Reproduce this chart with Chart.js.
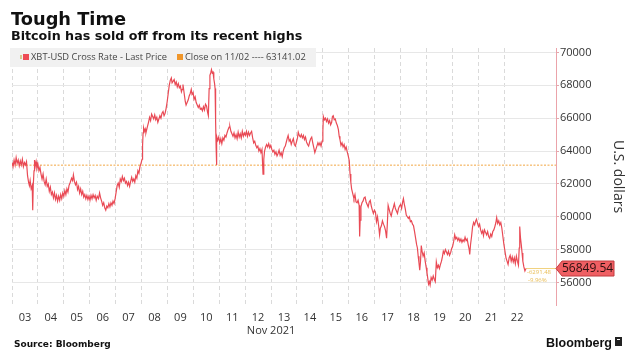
<!DOCTYPE html>
<html><head><meta charset="utf-8">
<script src="https://cdn.jsdelivr.net/npm/chart.js@4/dist/chart.umd.min.js"></script>
<style>html,body{margin:0;padding:0;background:#fff}#wrap{width:636px;height:355px;position:relative}canvas{display:block}</style>
</head><body><div id="wrap"><canvas id="c" width="636" height="355"></canvas></div>
<script>
// ---- data ----
const dayLabels = ['03','04','05','06','07','08','09','10','11','12','13','14','15','16','17','18','19','20','21','22'];
const gridDays = [0,1,2,3,4,5,6,7,8,9,10,11,12,13,14,15,16,17,18,19];
const labelDays = [0.5,1.5,2.5,3.5,4.5,5.5,6.5,7.5,8.5,9.5,10.5,11.5,12.5,13.5,14.5,15.5,16.5,17.5,18.5,19.5];
const priceTicks = [56000,58000,60000,62000,64000,66000,68000,70000];
const closeValue = 63141.02;
const lastPrice = 56849.54;
const changeLabels = ['-6291.48', '-9.96%'];
// time in days since Nov 03 00:00
const days = [
0.00,0.04,0.08,0.12,0.16,0.20,0.24,0.28,0.32,0.36,0.40,0.44,0.48,0.52,0.56,0.60,0.64,0.67,0.70,0.74,0.78,0.80,0.82,0.85,0.87,0.90,0.93,0.96,
1.00,1.04,1.08,1.12,1.16,1.20,1.24,1.28,1.32,1.36,1.40,1.44,1.48,1.52,1.56,1.60,1.64,1.68,1.72,1.76,1.80,1.84,1.88,1.92,1.96,
2.00,2.04,2.08,2.12,2.16,2.20,2.25,2.30,2.34,2.37,2.41,2.45,2.49,2.53,2.57,2.61,2.65,2.69,2.73,2.77,2.81,2.85,2.89,2.93,2.97,
3.01,3.05,3.09,3.13,3.17,3.21,3.25,3.29,3.34,3.38,3.42,3.46,3.50,3.54,3.58,3.62,3.66,3.70,3.74,3.78,3.82,3.86,3.90,3.94,3.98,
4.02,4.06,4.10,4.14,4.18,4.22,4.26,4.30,4.34,4.38,4.42,4.46,4.50,4.54,4.58,4.62,4.66,4.70,4.74,4.78,4.82,4.86,4.90,4.94,4.98,
5.02,5.04,5.06,5.08,5.11,5.14,5.17,5.20,5.23,5.27,5.31,5.35,5.39,5.43,5.47,5.51,5.55,5.59,5.63,5.67,5.71,5.75,5.79,5.83,5.87,5.91,5.95,5.99,
6.03,6.07,6.11,6.15,6.18,6.22,6.26,6.30,6.34,6.38,6.42,6.46,6.50,6.54,6.57,6.60,6.63,6.66,6.69,6.72,6.76,6.80,6.84,6.88,6.92,6.95,6.99,
7.03,7.07,7.11,7.15,7.19,7.23,7.27,7.31,7.35,7.39,7.43,7.47,7.51,7.55,7.58,7.61,7.64,7.67,7.70,7.73,7.76,7.79,7.82,7.84,7.86,7.88,7.89,7.91,7.94,7.98,
8.02,8.06,8.10,8.14,8.18,8.22,8.26,8.30,8.34,8.38,8.41,8.45,8.49,8.53,8.57,8.61,8.65,8.69,8.73,8.77,8.81,8.85,8.89,8.93,8.97,
9.01,9.05,9.09,9.13,9.17,9.21,9.25,9.29,9.33,9.37,9.41,9.45,9.49,9.53,9.57,9.61,9.65,9.69,9.72,9.75,9.79,9.83,9.87,9.91,9.95,9.99,
10.03,10.07,10.11,10.15,10.19,10.23,10.27,10.31,10.35,10.39,10.43,10.47,10.51,10.55,10.59,10.63,10.66,10.70,10.74,10.78,10.82,10.86,10.90,10.94,10.98,
11.02,11.05,11.09,11.13,11.17,11.21,11.25,11.29,11.33,11.37,11.41,11.45,11.49,11.53,11.57,11.61,11.65,11.69,11.73,11.77,11.81,11.85,11.89,11.93,11.97,
12.00,12.02,12.06,12.10,12.14,12.18,12.22,12.26,12.30,12.34,12.37,12.40,12.44,12.48,12.52,12.56,12.60,12.63,12.66,12.70,12.74,12.78,12.82,12.86,12.90,12.94,12.98,
13.02,13.05,13.08,13.11,13.14,13.17,13.20,13.24,13.28,13.32,13.36,13.40,13.42,13.44,13.47,13.51,13.55,13.59,13.63,13.67,13.71,13.75,13.79,13.83,13.87,13.91,13.95,13.99,
14.03,14.07,14.11,14.15,14.19,14.22,14.26,14.30,14.34,14.38,14.42,14.46,14.49,14.52,14.56,14.60,14.64,14.68,14.72,14.76,14.80,14.84,14.88,14.92,14.96,
15.00,15.04,15.08,15.11,15.14,15.18,15.22,15.26,15.30,15.34,15.38,15.42,15.46,15.50,15.54,15.58,15.62,15.65,15.68,15.71,15.74,15.77,15.80,15.83,15.87,15.91,15.95,15.99,
16.02,16.05,16.08,16.11,16.14,16.18,16.22,16.26,16.30,16.34,16.38,16.42,16.46,16.50,16.54,16.58,16.62,16.65,16.69,16.73,16.77,16.81,16.85,16.89,16.93,16.97,
17.01,17.05,17.09,17.13,17.17,17.21,17.25,17.29,17.33,17.37,17.41,17.45,17.49,17.53,17.57,17.61,17.65,17.67,17.70,17.74,17.78,17.82,17.86,17.90,17.93,17.97,
18.01,18.05,18.09,18.13,18.17,18.20,18.24,18.28,18.32,18.36,18.40,18.44,18.48,18.52,18.56,18.60,18.64,18.68,18.71,18.75,18.79,18.83,18.87,18.91,18.95,18.99,
19.03,19.07,19.11,19.15,19.19,19.23,19.27,19.31,19.35,19.39,19.43,19.47,19.51,19.55,19.58,19.60,19.63,19.66,19.69,19.72,19.76,19.80,19.84
];
const prices = [
63300,63050,63450,63150,63600,63250,63450,63100,63400,63150,63500,63050,63300,63150,63350,62500,62100,61900,62200,61700,61900,60400,61900,62800,63450,63100,63350,62950,
63200,62800,63000,62600,62300,62600,62150,61950,62300,61850,62000,61550,61800,61350,61500,61150,61450,61050,61300,60950,61250,61000,61350,61100,61450,
61250,61600,61350,61700,61500,61900,62100,62350,62200,62550,62150,61950,62100,61650,61850,61450,61700,61350,61550,61200,61350,61100,61300,61050,61250,
61000,61300,61100,61350,61150,61300,61000,61250,61100,61450,61150,60950,60700,60850,60550,60400,60650,60550,60800,60600,60850,60700,60950,60800,61100,
61500,61900,62050,61800,62300,62150,62450,62200,62350,62050,62150,61900,62100,61850,62150,62400,62150,62300,62100,62500,62350,62800,62650,63050,63250,
63500,64300,65100,65400,65200,65350,65100,65300,65500,65750,66050,65850,66250,66100,65950,66200,65900,66050,65750,65950,66150,66000,66300,66400,66150,66300,66600,67000,
67500,68000,68300,68450,68150,68250,68350,68050,68200,67900,68100,67850,67950,67600,67750,68050,67700,67350,67000,66800,66950,67100,67350,67500,67750,67450,67550,
67150,67300,66950,66800,66650,66800,66550,66600,66450,66700,66500,66850,66750,66350,66150,67800,68600,68750,68950,68750,68800,68400,68100,67800,65800,64200,63150,64900,64650,64850,
64500,64750,64450,64800,64650,64950,64850,65100,65300,65450,65500,65200,65050,64900,65100,64800,65000,64750,65150,64850,65050,64800,65200,64900,65100,
64950,65200,64900,65150,64950,65100,65200,64800,64500,64600,64350,64200,64300,64000,64150,63900,64100,62600,63500,64000,64250,64400,64250,64450,64200,64350,
64100,63950,64050,63800,63950,63700,63850,64050,63750,63900,63650,64000,64200,64300,64550,64800,64950,64600,64700,64400,64600,64750,64400,64300,64550,
64800,65150,64950,64850,65000,64800,64950,64700,64850,64550,64400,64300,64550,64750,64850,64500,64200,63900,64100,64300,64500,64350,64500,64300,64600,
65200,66100,65900,66000,65800,65950,65700,65850,65600,65750,66100,66150,65900,65950,65700,65550,65300,64900,64700,64350,64500,64250,64400,64100,64250,63950,63700,
63400,62600,62100,61700,61500,61300,61100,61350,60900,60850,61000,60700,58800,59800,60600,60850,60950,61150,61200,60900,60750,60600,60900,61000,60650,60400,60200,60400,
60300,59700,60000,59500,58900,59300,59450,59750,59550,59400,59150,58700,59600,60700,60450,60200,60050,60350,60550,60800,60500,60350,60200,60500,60650,
60750,60500,60900,61100,60800,60500,60100,60000,59900,60000,59700,59750,59550,59450,59100,58700,58300,58100,57600,57200,56750,57300,58250,57900,57600,57800,57300,56900,
56600,56250,55900,56050,55850,56300,56150,56400,56200,56050,57250,56900,57050,56850,57100,57300,57600,57900,57750,58000,57850,57700,57900,57650,57800,58050,
58200,58500,58900,58650,58750,58550,58700,58500,58650,58450,58600,58500,58750,58550,58650,58300,58000,57700,58300,58800,59400,59650,59500,59750,59850,59600,
59400,59550,59200,59000,59150,58850,59200,59050,58900,59100,58800,58700,58950,58800,59100,59200,59400,59650,59950,59600,59750,59500,59650,59300,58800,58300,
57900,57500,57300,57100,57500,57650,57300,57550,57250,57500,57150,57600,57300,57050,58100,59400,58700,58300,57800,57300,56950,56700,56849.54
];

const X_MAX = 21.0;
const Y_MIN = 54630, Y_MAX = 70270;
const lastDay = days[days.length - 1];

const FONT = '"Open Sans", "Liberation Sans", sans-serif';

const extras = {
  id: 'extras',
  afterDraw(chart) {
    const ctx = chart.ctx;
    const xs = chart.scales.x, ys = chart.scales.y;
    ctx.save();
    // titles
    ctx.fillStyle = '#111';
    ctx.textAlign = 'left';
    ctx.textBaseline = 'alphabetic';
    ctx.font = 'bold 17.8px "DejaVu Sans", sans-serif';
    ctx.fillText('Tough Time', 11, 25);
    ctx.font = 'bold 12.7px "DejaVu Sans", sans-serif';
    ctx.fillText('Bitcoin has sold off from its recent highs', 11, 40);

    // legend box
    ctx.fillStyle = '#f1f1f1';
    ctx.fillRect(10, 48, 306, 19);
    ctx.fillStyle = '#d8c890';
    ctx.fillRect(20, 55, 2, 4);
    ctx.fillStyle = '#ee4b55';
    ctx.fillRect(23, 54, 6, 6);
    ctx.fillStyle = '#444';
    ctx.font = '9.3px ' + FONT;
    ctx.textBaseline = 'middle';
    ctx.fillText('XBT-USD Cross Rate - Last Price', 31, 57.5);
    ctx.fillStyle = '#f0962a';
    ctx.fillRect(177, 54, 6, 6);
    ctx.fillStyle = '#444';
    ctx.fillText('Close on 11/02 ---- 63141.02', 185, 57.5);

    // Nov 2021
    ctx.fillStyle = '#333';
    ctx.font = '11px ' + FONT;
    ctx.textAlign = 'center';
    ctx.fillText('Nov 2021', xs.getPixelForValue(10), 331);

    // source + logo
    ctx.textAlign = 'left';
    ctx.fillStyle = '#111';
    ctx.font = 'bold 9px "DejaVu Sans", sans-serif';
    ctx.textBaseline = 'alphabetic';
    ctx.fillText('Source: Bloomberg', 14, 347);
    ctx.font = 'bold 12.5px "Liberation Sans", sans-serif';
    ctx.textAlign = 'right';
    ctx.fillText('Bloomberg', 612, 347);
    ctx.fillStyle = '#222';
    ctx.fillRect(615, 337, 7, 9);
    ctx.fillStyle = '#fff';
    ctx.fillRect(617, 339, 3, 1);

    // price tag
    const py = ys.getPixelForValue(lastPrice);
    const ax = chart.chartArea.right;
    ctx.beginPath();
    ctx.moveTo(ax, py);
    ctx.lineTo(ax + 6, py - 7.5);
    ctx.lineTo(614, py - 7.5);
    ctx.lineTo(614, py + 7.5);
    ctx.lineTo(ax + 6, py + 7.5);
    ctx.closePath();
    ctx.fillStyle = '#ef5f63';
    ctx.fill();
    ctx.strokeStyle = '#c23a3f';
    ctx.lineWidth = 1;
    ctx.stroke();
    ctx.fillStyle = '#2a0e0e';
    ctx.font = '12px ' + FONT;
    ctx.textAlign = 'left';
    ctx.textBaseline = 'middle';
    ctx.fillText(lastPrice.toFixed(2), 562, py + 0.5);

    // change annotations
    ctx.fillStyle = '#e9bd55';
    ctx.font = '6px ' + FONT;
    const lx = xs.getPixelForValue(lastDay) + 1;
    ctx.fillText(changeLabels[0], lx, py + 4);
    ctx.fillText(changeLabels[1], lx + 1, py + 12);
    ctx.restore();
  }
};

new Chart(document.getElementById('c'), {
  type: 'line',
  data: {
    datasets: [
      {
        label: 'XBT-USD Cross Rate - Last Price',
        data: days.map((d, i) => ({x: d, y: prices[i]})),
        borderColor: '#e94a55',
        borderWidth: 1.2,
        pointRadius: 0,
        tension: 0,
        xAxisID: 'x', yAxisID: 'y'
      },
      {
        label: 'Close on 11/02',
        data: [{x: 0, y: closeValue}, {x: X_MAX, y: closeValue}],
        borderColor: '#f2a540',
        borderWidth: 1,
        borderDash: [2, 1.5],
        pointRadius: 0,
        xAxisID: 'x', yAxisID: 'y'
      },
      {
        label: 'last',
        data: [{x: lastDay, y: lastPrice}, {x: X_MAX, y: lastPrice}],
        borderColor: '#f1d27e',
        borderWidth: 1,
        pointRadius: 0,
        xAxisID: 'x', yAxisID: 'y'
      }
    ]
  },
  options: {
    responsive: false,
    devicePixelRatio: 1,
    animation: false,
    layout: {padding: {top: 48, left: 12, right: 0, bottom: 30}},
    plugins: {legend: {display: false}, tooltip: {enabled: false}},
    scales: {
      x: {
        type: 'linear', position: 'bottom', min: 0, max: X_MAX,
        grid: {display: false, drawTicks: false},
        border: {display: false},
        ticks: {
          autoSkip: false, maxRotation: 0, padding: 6,
          color: '#333', font: {family: FONT, size: 11},
          callback: (v, i) => dayLabels[i]
        },
        afterBuildTicks: s => { s.ticks = labelDays.map(v => ({value: v})); },
        afterFit: s => { s.height = 20; }
      },
      xg: {
        type: 'linear', position: 'bottom', min: 0, max: X_MAX,
        grid: {display: true, drawTicks: false, color: '#dadada', lineWidth: 1},
        border: {display: false, dash: [4, 3]},
        ticks: {display: false},
        afterBuildTicks: s => { s.ticks = gridDays.map(v => ({value: v})); },
        afterFit: s => { s.height = 0; }
      },
      y: {
        type: 'linear', position: 'right', min: Y_MIN, max: Y_MAX,
        grid: {color: '#e7e7e7', tickLength: 3, tickColor: '#e2a7ad'},
        border: {display: true, color: '#eba3aa', width: 1},
        ticks: {
          padding: 1, color: '#333', font: {family: FONT, size: 11},
          callback: v => String(v)
        },
        title: {
          display: true, text: 'U.S. dollars', color: '#333',
          font: {family: FONT, size: 14}, padding: {top: 10, bottom: 0}
        },
        afterBuildTicks: s => { s.ticks = priceTicks.map(v => ({value: v})); },
        afterFit: s => { s.width = 80; }
      }
    }
  },
  plugins: [extras]
});
</script>
</body></html>
